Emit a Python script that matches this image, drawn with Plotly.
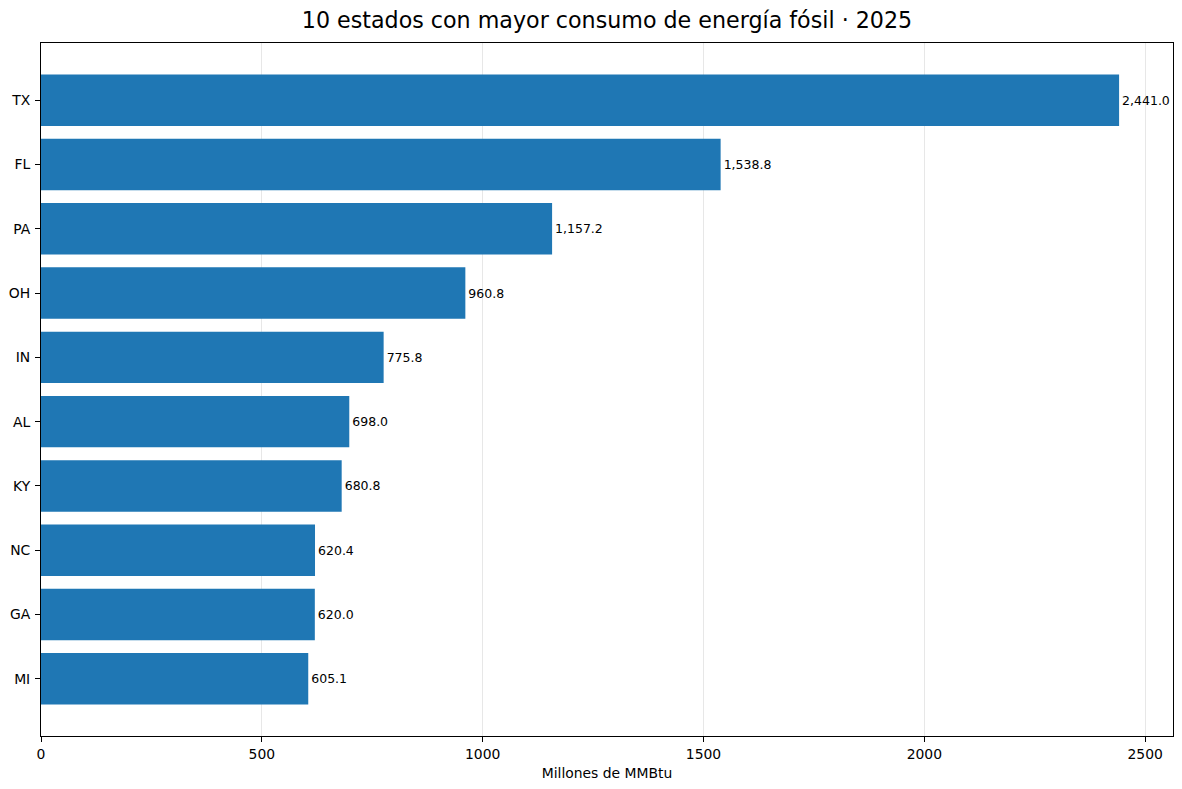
import plotly.graph_objects as go

# Top 10 states, fossil energy consumption 2025 (millions of MMBtu)
states = ['TX', 'FL', 'PA', 'OH', 'IN', 'AL', 'KY', 'NC', 'GA', 'MI']
consumption = [2441.0, 1538.8, 1157.2, 960.8, 775.8, 698.0, 680.8, 620.4, 620.0, 605.1]

font_family = 'DejaVu Sans, Arial, sans-serif'

fig = go.Figure()

fig.add_trace(
    go.Bar(
        x=consumption,
        y=states,
        orientation='h',
        width=0.8,
        marker=dict(color='#1f77b4', line=dict(width=0)),
        texttemplate='%{x:,.1f}',
        textposition='outside',
        textfont=dict(size=12.5, color='black', family=font_family),
        cliponaxis=False,
        hovertemplate='%{y}: %{x:,.1f}<extra></extra>'
    )
)

fig.update_layout(
    width=1182,
    height=789,
    margin=dict(l=41, r=9, t=43, b=53, autoexpand=False),
    title=dict(
        text='10 estados con mayor consumo de energía fósil · 2025',
        x=0.5,
        xref='paper',
        y=1 - 20 / 789,
        yref='container',
        xanchor='center',
        yanchor='middle',
        font=dict(size=22.2, color='black', family=font_family)
    ),
    plot_bgcolor='white',
    paper_bgcolor='white',
    showlegend=False,
    font=dict(family=font_family, color='black')
)

fig.update_xaxes(
    range=[0, max(consumption) * 1.05],
    tickvals=[0, 500, 1000, 1500, 2000, 2500],
    ticks='outside',
    ticklen=5,
    tickcolor='black',
    tickfont=dict(size=13.9, color='black'),
    showline=True,
    linecolor='black',
    linewidth=1,
    mirror=True,
    showgrid=True,
    gridcolor='rgba(176,176,176,0.3)',
    gridwidth=1,
    zeroline=False,
    automargin=False,
    layer='above traces',
    title=dict(text='Millones de MMBtu', font=dict(size=13.9, color='black'), standoff=7)
)

fig.update_yaxes(
    categoryorder='array',
    categoryarray=states,
    range=[len(states) - 1 + 0.89, -0.89],
    ticks='outside',
    ticklen=5,
    tickcolor='black',
    tickfont=dict(size=13.9, color='black'),
    ticklabelstandoff=2,
    showline=True,
    linecolor='black',
    linewidth=1,
    mirror=True,
    showgrid=False,
    zeroline=False,
    automargin=False
)

fig.write_html(
    'out.html',
    config={'displayModeBar': False},
    post_script="document.body.style.margin='0';"
)
